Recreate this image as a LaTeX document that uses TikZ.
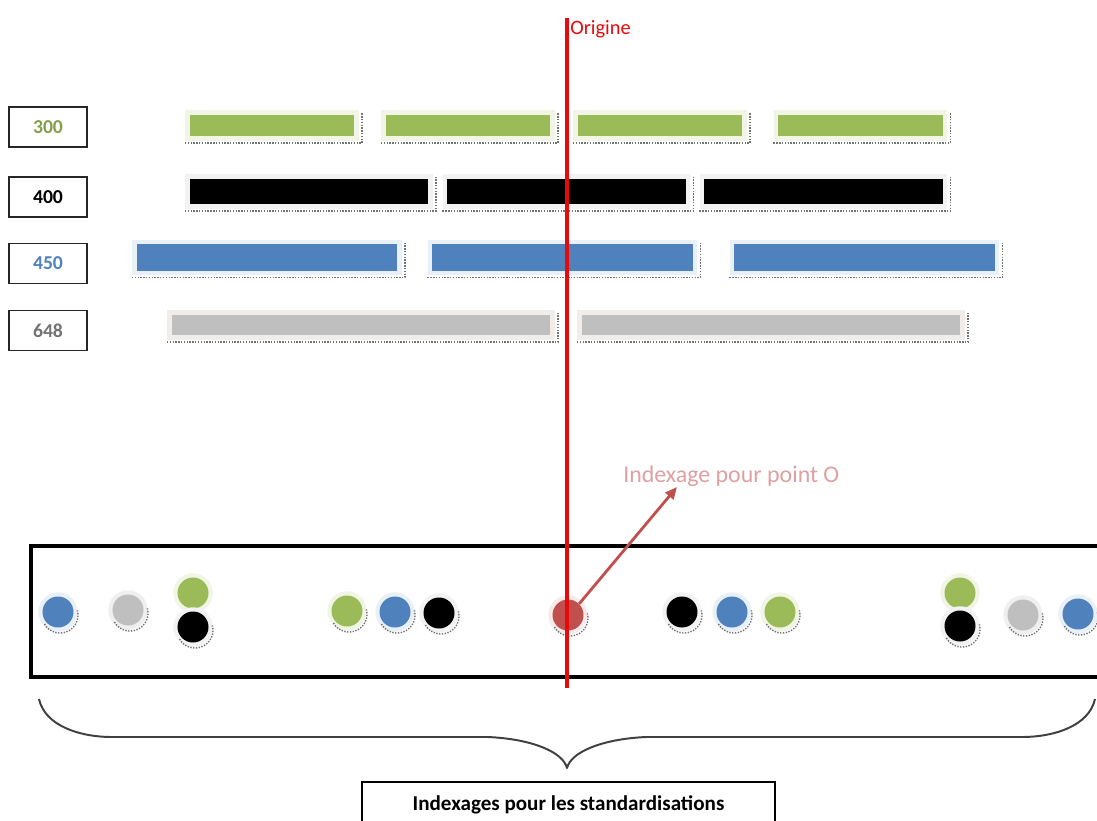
\documentclass[tikz,border=0pt]{standalone}
\usepackage{fontspec}
\setmainfont{Carlito}
\usepackage{tikz}
\usetikzlibrary{positioning,arrows.meta}
\definecolor{vert}{RGB}{155,187,89}
\definecolor{bleu}{RGB}{79,129,189}
\definecolor{gris}{RGB}{191,191,191}
\definecolor{rouge}{RGB}{192,80,77}
\definecolor{rose}{RGB}{222,160,162}
\definecolor{origincolor}{RGB}{232,10,10}
\tikzset{
  lbl/.style={draw=black!85, line width=1pt, minimum width=1.95cm, minimum height=1cm, inner sep=0pt, font=\fontsize{14}{16}\selectfont\bfseries},
  bar/.style 2 args={fill=#1, inner sep=0pt, outer sep=0pt, preaction={draw=#2, line width=7pt}},
  b300/.style={bar={vert}{vert!15}, minimum width=4.1cm, minimum height=0.525cm},
  b400/.style={bar={black}{black!5}, minimum width=5.95cm, minimum height=0.625cm},
  b450/.style={bar={bleu}{bleu!12}, minimum width=6.5cm, minimum height=0.65cm},
  b648/.style={bar={gris}{orange!10!gris!25}, minimum width=9.45cm, minimum height=0.5cm},
  barsh/.style={densely dotted, line width=1pt, black!55},
  dot/.style 2 args={circle, fill=#1, inner sep=0pt, minimum size=0.775cm, preaction={draw=#2, line width=6pt}},
  dotsh/.style={densely dotted, line width=1pt, black!55},
  cadre/.style={line width=3.5pt, draw=black},
  axe/.style={line width=3pt, draw=origincolor},
  fleche/.style={-{Triangle[length=3mm, width=2.6mm]}, line width=2pt, draw=rouge},
  accol/.style={line width=1.4pt, draw=black!75, line join=round},
  stdbox/.style={draw=black, line width=1.4pt, minimum width=10.325cm, minimum height=1.15cm, inner sep=0pt, font=\fontsize{15}{17}\selectfont\bfseries},
}
\begin{document}
\begin{tikzpicture}[x=0.025cm, y=-0.025cm]
\clip (0,0) rectangle (1097,821);
% legend boxes
\node[lbl, text=vert!85!black] (l300) at (48,127) {300};
\node[lbl, text=black] (l400) at (48,197) {400};
\node[lbl, text=bleu] (l450) at (48,263.5) {450};
\node[lbl, text=black!55] (l648) at (48,330.5) {648};
% bars
\node[b300] (g1) at (272,125.5) {};
\node[b300] (g2) at (468,125.5) {};
\node[b300] (g3) at (660,125.5) {};
\node[b300] (g4) at (860.5,125.5) {};
\node[b400] (k1) at (309,191.5) {};
\node[b400] (k2) at (566.5,191.5) {};
\node[b400] (k3) at (823.5,191.5) {};
\node[b450] (u1) at (267,257.5) {};
\node[b450] (u2) at (562.5,257.5) {};
\node[b450] (u3) at (864.5,257.5) {};
\node[b648] (s1) at (361,325) {};
\node[b648] (s2) at (771,325) {};
\foreach \b in {g1,g2,g3,g4,k1,k2,k3,u1,u2,u3,s1,s2}
  \draw[barsh] ([shift={(-5,7)}]\b.south west) -- ([shift={(8,7)}]\b.south east) -- ([shift={(8,-3)}]\b.north east);
% index frame
\draw[cadre] (31,546) rectangle (1115,677);
\node[dot={bleu}{bleu!12}] (p1) at (58,612) {};
\node[dot={gris}{gris!25}] (p2) at (128,610) {};
\node[dot={vert}{vert!15}] (p3) at (193,593) {};
\node[dot={black}{black!5}] (p4) at (193,627) {};
\node[dot={vert}{vert!15}] (p5) at (347,611) {};
\node[dot={bleu}{bleu!12}] (p6) at (395,612) {};
\node[dot={black}{black!5}] (p7) at (439,613) {};
\node[dot={rouge}{rouge!12}] (p0) at (568,615) {};
\node[dot={black}{black!5}] (p8) at (682,612) {};
\node[dot={bleu}{bleu!12}] (p9) at (732,612) {};
\node[dot={vert}{vert!15}] (p10) at (780,612) {};
\node[dot={vert}{vert!15}] (p11) at (960,593) {};
\node[dot={black}{black!5}] (p12) at (960,626) {};
\node[dot={gris}{gris!25}] (p13) at (1023,615) {};
\node[dot={bleu}{bleu!12}] (p14) at (1078,614) {};
\foreach \p in {p1,p2,p4,p5,p6,p7,p0,p8,p9,p10,p12,p13,p14}
  \draw[dotsh] ([shift={(2,3)}]\p.center) ++(-150:0.45cm) arc[start angle=-150, end angle=15, radius=0.45cm];
% origin
\coordinate (otop) at (567,18);
\coordinate (obot) at (567,688);
\draw[axe] (otop) -- (obot);
\node[anchor=base west, inner sep=0pt, text=origincolor, font=\fontsize{14.5}{16}\selectfont] (orig) at (570,35) {Origine};
\node[anchor=base west, inner sep=0pt, text=rose, font=\fontsize{17}{19}\selectfont] (ipo) at (623,482) {Indexage pour point O};
\coordinate (tip) at (677,487);
\draw[fleche] (p0.north east) -- (tip);
% brace and caption
\draw[accol] (39,699) .. controls (45,726) and (80,737) .. (112,737) -- (488,737)
  .. controls (532,739) and (563,752) .. (567,768)
  .. controls (571,752) and (602,739) .. (646,737) -- (1022,737)
  .. controls (1054,737) and (1089,726) .. (1095,699);
\node[stdbox, anchor=north] (std) at (568.5,781) {Indexages pour les standardisations};
\end{tikzpicture}
\end{document}
